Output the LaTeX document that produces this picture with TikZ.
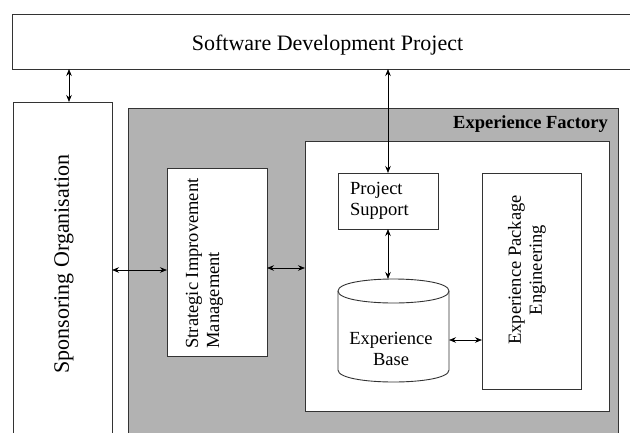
\documentclass[tikz,border=0pt]{standalone}
\usepackage{fontspec}
\setmainfont{Liberation Serif}
\usetikzlibrary{arrows.meta}
\begin{document}
\begin{tikzpicture}[x=1pt,y=-1pt,
  boxst/.style={draw=black!80, line width=0.9pt, fill=white, inner sep=0pt, outer sep=0pt},
  big/.style={font=\fontsize{22}{25}\selectfont},
  small/.style={font=\fontsize{18.5}{21}\selectfont},
  txt/.style={inner sep=0pt},
  arr/.style={{Stealth[length=7pt,width=5.5pt]}-{Stealth[length=7pt,width=5.5pt]}, line width=0.7pt, draw=black}]
\useasboundingbox (0,0) rectangle (630,432);
% boxes
\node[boxst, minimum width=620.5pt, minimum height=55pt] (sdp) at (322.75,41.5) {};
\node[boxst, minimum width=99pt, minimum height=378pt] (sp) at (62.5,291) {};
\node[boxst, fill=black!30, minimum width=490pt, minimum height=372pt] (ef) at (373.5,294) {};
\node[boxst, minimum width=304.5pt, minimum height=270pt] (wb) at (457.25,276) {};
\node[boxst, minimum width=100pt, minimum height=56pt] (ps) at (388,201) {};
\node[boxst, minimum width=100pt, minimum height=188pt] (sim) at (217,262) {};
\node[boxst, minimum width=99.5pt, minimum height=216pt] (epe) at (531.75,281) {};
\node[inner sep=0pt, outer sep=0pt, minimum width=111pt, minimum height=103pt] (eb) at (393.5,330.5) {};
% cylinder
\filldraw[fill=white, draw=black!80, line width=0.9pt]
  (338,291) -- (338,370) .. controls (338,386) and (449,386) .. (449,370)
  -- (449,291) .. controls (449,275) and (338,275) .. (338,291) -- cycle;
\draw[draw=black!80, line width=0.9pt] (338,291) .. controls (338,307) and (449,307) .. (449,291);
% texts
\node[txt,big,anchor=base] (sdpT) at (327.5,50.7) {Software Development Project};
\node[txt,big,rotate=90] (spT) at (64,264) {Sponsoring Organisation};
\node[txt,small,rotate=90,align=left] (simT) at (204.5,263.5) {Strategic Improvement\\Management};
\node[txt,small,anchor=west,align=left] (psT) at (350,201) {Project\\Support};
\node[txt,small,align=center] (ebT) at (391,349) {Experience\\Base};
\node[txt,small,rotate=90,align=center] (epeT) at (527,270) {Experience Package\\Engineering};
\node[txt,font=\fontsize{18.5}{21}\selectfont\bfseries,anchor=base east] (efT) at (608,128) {Experience Factory};
% arrows
\draw[arr] (sdp.south -| 69,0) -- (sp.north -| 69,0);
\draw[arr] (sdp.south -| ps.north) -- (ps.north);
\draw[arr] (sp.east |- 0,270) -- (sim.west |- 0,270);
\draw[arr] (sim.east |- 0,268) -- (wb.west |- 0,268);
\draw[arr] (ps.south) -- (eb.north -| ps.south);
\draw[arr] (eb.east |- 0,340) -- (epe.west |- 0,340);
\end{tikzpicture}
\end{document}
